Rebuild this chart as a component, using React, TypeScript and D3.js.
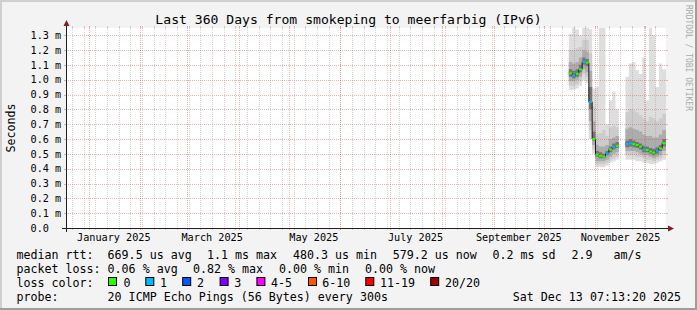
import React from "react";
import * as d3 from "d3";

// ---------- data ----------
const startTime = new Date(Date.UTC(2024, 11, 18, 7, 13, 20));
const endTime = new Date(Date.UTC(2025, 11, 13, 7, 13, 20));
const bucketDays = 2;

const bucketDates = [
  "2025-10-16", "2025-10-18", "2025-10-20", "2025-10-22", "2025-10-24", "2025-10-26",
  "2025-10-28", "2025-10-30", "2025-11-01", "2025-11-03", "2025-11-05", "2025-11-07",
  "2025-11-09", "2025-11-11", "2025-11-13", "2025-11-15", "2025-11-17", "2025-11-19",
  "2025-11-21", "2025-11-23", "2025-11-25", "2025-11-27", "2025-11-29", "2025-12-01",
  "2025-12-03", "2025-12-05", "2025-12-07", "2025-12-09", "2025-12-11",
];
// values in milliseconds
const medianRtt = [
  1.043, 1.027, 1.04, 1.07, 1.12, 1.115, 0.85, 0.6, 0.495, 0.486, 0.482, 0.503,
  0.53, 0.545, 0.553, null, null, 0.566, 0.571, 0.566, 0.56, 0.548, 0.53, 0.526,
  0.515, 0.508, 0.52, 0.537, 0.572,
];
const lossCount = [
  0, 1, 0, 0, 1, 0, 1, 0, 0, 0, 0, 1, 0, 1, 0, 0, 0, 1, 1, 0, 0, 0, 1, 0, 0, 0, 1, 0, 0,
];
const pingMin = [
  0.93, 0.93, 0.94, 0.96, 1.0, 0.98, 0.6, 0.5, 0.41, 0.41, 0.41, 0.42, 0.44, 0.45, 0.46,
  null, null, 0.46, 0.46, 0.46, 0.45, 0.45, 0.44, 0.44, 0.43, 0.43, 0.44, 0.45, 0.46,
];
const ping10 = [
  0.96, 0.96, 0.97, 0.99, 1.04, 1.02, 0.66, 0.53, 0.43, 0.43, 0.43, 0.44, 0.46, 0.47, 0.48,
  null, null, 0.49, 0.49, 0.49, 0.48, 0.48, 0.47, 0.46, 0.46, 0.45, 0.46, 0.47, 0.49,
];
const ping25 = [
  0.99, 0.99, 1.0, 1.02, 1.07, 1.05, 0.72, 0.56, 0.45, 0.45, 0.45, 0.46, 0.48, 0.5, 0.51,
  null, null, 0.52, 0.52, 0.52, 0.51, 0.5, 0.49, 0.49, 0.48, 0.47, 0.48, 0.49, 0.52,
];
const ping40 = [
  1.02, 1.01, 1.02, 1.05, 1.1, 1.09, 0.8, 0.59, 0.48, 0.47, 0.47, 0.49, 0.51, 0.53, 0.54,
  null, null, 0.545, 0.55, 0.545, 0.54, 0.53, 0.51, 0.51, 0.5, 0.49, 0.5, 0.52, 0.55,
];
const ping60 = [
  1.07, 1.06, 1.07, 1.1, 1.15, 1.14, 0.95, 0.65, 0.52, 0.51, 0.5, 0.52, 0.55, 0.57, 0.58,
  null, null, 0.59, 0.6, 0.59, 0.58, 0.57, 0.555, 0.55, 0.54, 0.535, 0.545, 0.56, 0.6,
];
const ping75 = [
  1.12, 1.11, 1.12, 1.15, 1.2, 1.19, 1.06, 0.72, 0.56, 0.55, 0.55, 0.56, 0.6, 0.61, 0.62,
  null, null, 0.67, 0.68, 0.67, 0.66, 0.65, 0.63, 0.62, 0.62, 0.61, 0.61, 0.63, 0.66,
];
const ping90 = [
  1.2, 1.2, 1.21, 1.22, 1.27, 1.27, 1.18, 0.82, 0.63, 0.64, 0.66, 0.62, 0.68, 0.69, 0.68,
  null, null, 0.78, 0.8, 0.79, 0.78, 0.76, 0.74, 0.72, 0.75, 0.74, 0.72, 0.74, 0.77,
];
const pingMax = [
  1.31, 1.35, 1.34, 1.3, 1.35, 1.35, 1.34, 0.94, 0.95, 1.35, 1.35, 0.7, 0.86, 0.92, 0.8,
  null, null, 1.02, 1.11, 1.12, 1.065, 1.04, 1.15, 0.86, 1.35, 1.3, 0.95, 1.11, 1.07,
];

const yTicks = [0, 0.1, 0.2, 0.3, 0.4, 0.5, 0.6, 0.7, 0.8, 0.9, 1.0, 1.1, 1.2, 1.3];

const titleText = "Last 360 Days from smokeping to meerfarbig (IPv6)";
const yAxisTitle = "Seconds";
const watermark = "RRDTOOL / TOBI OETIKER";

const rttLabel = "median rtt:";
const rttStats = ["669.5 us avg", "1.1 ms max", "480.3 us min", "579.2 us now", "0.2 ms sd", "2.9   am/s"];
const lossLabel = "packet loss:";
const lossStats = ["0.06 % avg", "0.82 % max", "0.00 % min", "0.00 % now"];
const lossColorLabel = "loss color:";
const lossLegend = ["0", "1", "2", "3", "4-5", "6-10", "11-19", "20/20"];
const lossColors = ["#26ff00", "#00b8ff", "#0059ff", "#7e00ff", "#ff00ff", "#ff5500", "#ff0000", "#a10000"];
const probeLabel = "probe:";
const probeText = "20 ICMP Echo Pings (56 Bytes) every 300s";
const stampText = "Sat Dec 13 07:13:20 2025";

// ---------- layout ----------
const W = 697;
const H = 310;
const X0 = 66;
const X1 = 666;
const Y0 = 228;
const Y1 = 28;
const yMax = 1.3486;
const MONO = "'DejaVu Sans Mono', monospace";

const rttX = [107.6, 207, 293, 392.7, 492.5, 571.5];
const lossX = [107.6, 193, 279, 365];
const boxX = [108, 145.3, 182.2, 219.6, 256.4, 308, 365.3, 430.2];
const boxLabelX = [123.6, 160, 196.9, 234.2, 271.1, 322.2, 380, 444.9];

export default function App() {
  const x = d3.scaleUtc().domain([startTime, endTime]).range([X0, X1]);
  const y = d3.scaleLinear().domain([0, yMax]).range([Y0, Y1]);
  const parse = d3.utcParse("%Y-%m-%d");
  const starts = bucketDates.map((s) => parse(s) as Date);
  const ends = starts.map((d, i) =>
    i === starts.length - 1 ? endTime : d3.utcDay.offset(d, bucketDays)
  );

  type P = { t: Date; i: number; ok: boolean };
  const pts: P[] = [];
  starts.forEach((s, i) => {
    if (medianRtt[i] == null) pts.push({ t: s, i, ok: false });
    else {
      pts.push({ t: s, i, ok: true });
      pts.push({ t: ends[i], i, ok: true });
    }
  });
  const cl = (v: number) => Math.min(v, yMax);
  const band = (lo: (number | null)[], hi: (number | null)[]) =>
    d3
      .area<P>()
      .defined((p) => p.ok)
      .x((p) => x(p.t))
      .y0((p) => y(cl(lo[p.i] as number)))
      .y1((p) => y(cl(hi[p.i] as number)))(pts) || "";

  const medLine =
    d3
      .line<P>()
      .defined((p) => p.ok)
      .x((p) => x(p.t))
      .y((p) => y(medianRtt[p.i] as number))(pts) || "";

  const weeks = d3.utcSunday.range(startTime, endTime);
  const months = d3.utcMonth.range(startTime, endTime);
  const labelMonths = d3.utcMonth.every(2)!.range(d3.utcMonth.floor(startTime), endTime)
    .map((m) => d3.utcDay.offset(m, 15))
    .filter((d) => d > startTime && d < endTime);
  const fmtMonth = d3.utcFormat("%B %Y");

  const px = (v: number) => Math.round(v) + 0.5;
  const gridGrey = "rgba(143,143,143,0.4)";
  const gridRed = "rgba(222,79,79,0.45)";

  const lossIdx = (n: number) => (n === 0 ? 0 : n === 1 ? 1 : n === 2 ? 2 : n === 3 ? 3 : n <= 5 ? 4 : n <= 10 ? 5 : n <= 19 ? 6 : 7);

  const rowY = [258.5, 272.7, 286.9, 301.1];

  return (
    <svg
      width={W}
      height={H}
      style={{ position: "fixed", left: 0, top: 0, display: "block" }}
      fontFamily={MONO}
    >
      <defs>
        <clipPath id="cv">
          <rect x={X0} y={Y1} width={X1 - X0} height={Y0 - Y1} />
        </clipPath>
      </defs>
      <rect x={0} y={0} width={W} height={H} fill="#f3f3f3" />
      {/* 3d frame */}
      <rect x={0} y={0} width={W} height={2} fill="#cfcfcf" />
      <rect x={0} y={0} width={2} height={H} fill="#cfcfcf" />
      <rect x={0} y={H - 2} width={W} height={2} fill="#9e9e9e" />
      <rect x={W - 2} y={0} width={2} height={H} fill="#9e9e9e" />

      <rect x={X0} y={Y1} width={X1 - X0} height={Y0 - Y1} fill="#ffffff" />

      {/* smoke */}
      <g clipPath="url(#cv)">
        <path d={band(pingMin, pingMax)} fill="#dedede" />
        <path d={band(ping10, ping90)} fill="#cccccc" />
        <path d={band(ping25, ping75)} fill="#acacac" />
        <path d={band(ping40, ping60)} fill="#767676" />
      </g>

      {/* grid */}
      <g shapeRendering="crispEdges">
        {weeks.map((w, i) => (
          <g key={"w" + i}>
            <line x1={px(x(w))} x2={px(x(w))} y1={Y1} y2={Y0} stroke={gridGrey} strokeDasharray="1,1" />
            <line x1={px(x(w))} x2={px(x(w))} y1={Y1 - 2} y2={Y1} stroke={gridGrey} />
            <line x1={px(x(w))} x2={px(x(w))} y1={Y0} y2={Y0 + 2} stroke={gridGrey} />
          </g>
        ))}
        {months.map((m, i) => (
          <g key={"m" + i}>
            <line x1={px(x(m))} x2={px(x(m))} y1={Y1} y2={Y0} stroke={gridRed} strokeDasharray="1,1" />
            <line x1={px(x(m))} x2={px(x(m))} y1={Y1 - 2} y2={Y1} stroke={gridRed} />
            <line x1={px(x(m))} x2={px(x(m))} y1={Y0} y2={Y0 + 2} stroke={gridRed} />
          </g>
        ))}
        {yTicks.filter((v) => v > 0).map((v, i) => (
          <g key={"h" + i}>
            <line x1={X0} x2={X1} y1={px(y(v))} y2={px(y(v))} stroke={gridRed} strokeDasharray="1,1" />
            <line x1={X0 - 2} x2={X0} y1={px(y(v))} y2={px(y(v))} stroke={gridRed} />
            <line x1={X1} x2={X1 + 2} y1={px(y(v))} y2={px(y(v))} stroke={gridRed} />
          </g>
        ))}
      </g>

      {/* median */}
      <g clipPath="url(#cv)">
        <path d={medLine} fill="none" stroke="#1a1a1a" strokeWidth={1} />
        {starts.map((s, i) =>
          medianRtt[i] == null ? null : (
            <line
              key={"md" + i}
              x1={x(s)}
              x2={x(ends[i])}
              y1={y(medianRtt[i] as number)}
              y2={y(medianRtt[i] as number)}
              stroke={lossColors[lossIdx(lossCount[i])]}
              strokeWidth={2}
            />
          )
        )}
      </g>

      {/* axes */}
      <g shapeRendering="crispEdges">
        <line x1={X0 - 4} x2={X1 + 4} y1={Y0 + 0.5} y2={Y0 + 0.5} stroke="#1f1f1f" />
        <line x1={X0 + 0.5} x2={X0 + 0.5} y1={Y0 + 4} y2={Y1 - 4} stroke="#1f1f1f" />
      </g>
      <path d={`M${X1 + 2},${Y0 - 2.5}L${X1 + 2},${Y0 + 3.5}L${X1 + 8},${Y0 + 0.5}Z`} fill="#801f1f" />
      <path d={`M${X0 - 2.5},${Y1 - 2}L${X0 + 3.5},${Y1 - 2}L${X0 + 0.5},${Y1 - 8}Z`} fill="#801f1f" />

      {/* y labels */}
      {yTicks.map((v, i) => (
        <text key={"yl" + i} x={30.5} y={y(v) + 3.7} fontSize={10.2} fill="#000" style={{ whiteSpace: "pre" }}>
          {v === 0 ? "0.0" : `${v.toFixed(1)} m`}
        </text>
      ))}
      {/* x labels */}
      {labelMonths.map((d, i) => (
        <text key={"xl" + i} x={x(d)} y={240.7} fontSize={10.2} textAnchor="middle" fill="#000">
          {fmtMonth(d)}
        </text>
      ))}

      {/* titles */}
      <text x={348.5} y={23.5} fontSize={13.1} textAnchor="middle" fill="#000">
        {titleText}
      </text>
      <text transform="translate(14.5,128) rotate(-90)" fontSize={11.65} textAnchor="middle" fill="#000">
        {yAxisTitle}
      </text>
      <text transform="translate(685.5,5) rotate(90)" fontSize={8} fill="#aaaaaa">
        {watermark}
      </text>

      {/* legend */}
      <g fontSize={11.65} fill="#000" style={{ whiteSpace: "pre" }}>
        <text x={16.4} y={rowY[0]}>{rttLabel}</text>
        {rttStats.map((s, i) => (
          <text key={"r" + i} x={rttX[i]} y={rowY[0]} style={{ whiteSpace: "pre" }}>{s}</text>
        ))}
        <text x={16.4} y={rowY[1]}>{lossLabel}</text>
        {lossStats.map((s, i) => (
          <text key={"l" + i} x={lossX[i]} y={rowY[1]} style={{ whiteSpace: "pre" }}>{s}</text>
        ))}
        <text x={16.4} y={rowY[2]}>{lossColorLabel}</text>
        {lossLegend.map((s, i) => (
          <g key={"b" + i}>
            <rect x={boxX[i] + 0.5} y={277.5} width={8} height={8} fill={lossColors[i]} stroke="#000" strokeWidth={1} />
            <text x={boxLabelX[i]} y={rowY[2]}>{s}</text>
          </g>
        ))}
        <text x={16.4} y={rowY[3]}>{probeLabel}</text>
        <text x={107.6} y={rowY[3]}>{probeText}</text>
        <text x={681} y={rowY[3]} textAnchor="end">{stampText}</text>
      </g>
    </svg>
  );
}
